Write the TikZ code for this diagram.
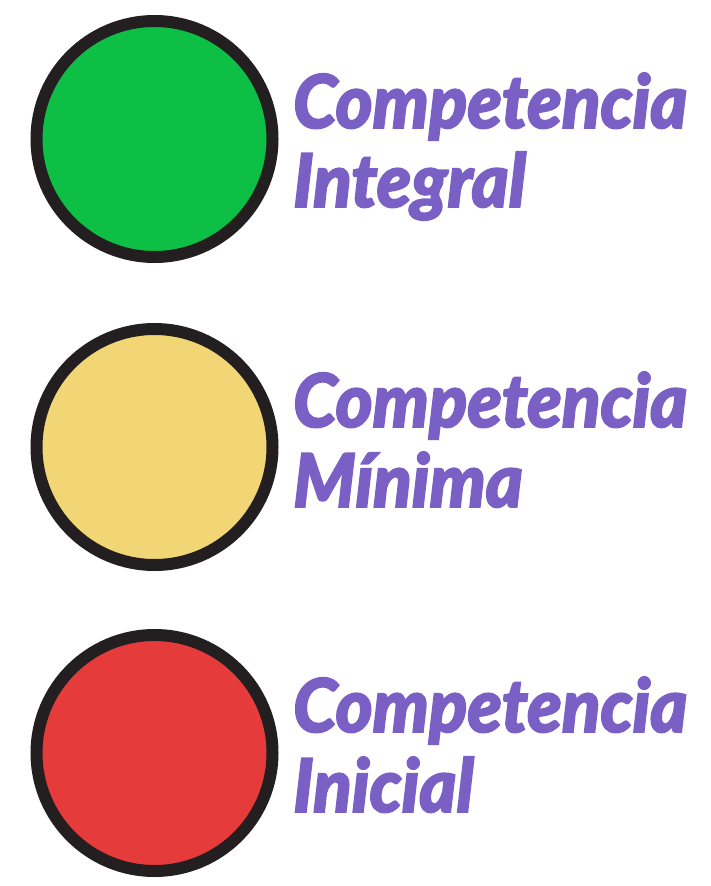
\documentclass[tikz,border=0pt]{standalone}
\usepackage{fontspec}
\newfontfamily\lbl{Lato Black Italic}[FakeBold=2.4, FakeStretch=0.955]
\definecolor{ringc}{HTML}{231F20}
\definecolor{greenc}{HTML}{0DBF45}
\definecolor{yellowc}{HTML}{F2D675}
\definecolor{redc}{HTML}{E63B3B}
\definecolor{purplec}{HTML}{7A5FC4}
\tikzset{
  lamp/.style={circle, draw=ringc, line width=12pt, minimum size=236pt, inner sep=0pt},
  lbltext/.style={anchor=base west, inner sep=0pt, text=purplec, font=\lbl\fontsize{74}{74}\selectfont}
}
\begin{document}
\begin{tikzpicture}[x=1pt,y=-1pt]
\useasboundingbox (0,0) rectangle (710,886);
\node[lamp, fill=greenc] (g) at (154.5,139) {};
\node[lamp, fill=yellowc] (y) at (154.5,447) {};
\node[lamp, fill=redc] (r) at (154.5,753) {};
\node[lbltext] (g1) at (293,128) {Competencia};
\node[lbltext] (g2) at (293,207) {Integral};
\node[lbltext] (y1) at (293,427) {Competencia};
\node[lbltext] (y2) at (293,507) {Mínima};
\node[lbltext] (r1) at (293,732) {Competencia};
\node[lbltext] (r2) at (293,812) {Inicial};
\end{tikzpicture}
\end{document}
